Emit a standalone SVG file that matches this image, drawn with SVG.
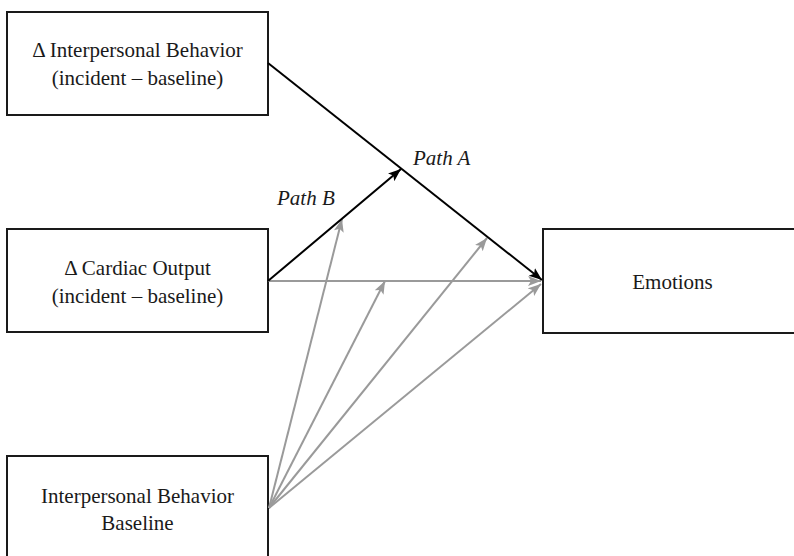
<svg xmlns="http://www.w3.org/2000/svg" width="794" height="556" viewBox="0 0 794 556">
  <style>
    .box { fill: #ffffff; stroke: #1a1a1a; stroke-width: 2; }
    .blk { stroke: #000000; stroke-width: 2; fill: none; }
    .gry { stroke: #9a9a9a; stroke-width: 2; fill: none; }
  </style>
  <defs>
    <marker id="ab" markerUnits="userSpaceOnUse" markerWidth="14" markerHeight="12" refX="13" refY="5" orient="auto">
      <path d="M0,0 L13,5 L0,10 L3,5 z" fill="#000000"/>
    </marker>
    <marker id="ag" markerUnits="userSpaceOnUse" markerWidth="14" markerHeight="12" refX="13" refY="5" orient="auto">
      <path d="M0,0 L13,5 L0,10 L3,5 z" fill="#9a9a9a"/>
    </marker>
  </defs>
  <rect width="794" height="556" fill="#ffffff"/>

  <g font-family="Liberation Serif, DejaVu Serif, serif" font-size="21" fill="#1a1a1a" text-anchor="middle">
    <g id="node-delta-behavior">
      <rect class="box" x="7" y="12" width="261" height="103"/>
      <text x="137.5" y="57">Δ Interpersonal Behavior</text>
      <text x="137.5" y="85">(incident – baseline)</text>
    </g>
    <g id="node-delta-cardiac">
      <rect class="box" x="7" y="229" width="261" height="103"/>
      <text x="137.5" y="275">Δ Cardiac Output</text>
      <text x="137.5" y="303">(incident – baseline)</text>
    </g>
    <g id="node-baseline">
      <rect class="box" x="7" y="456" width="261" height="120"/>
      <text x="137.5" y="503">Interpersonal Behavior</text>
      <text x="137.5" y="530">Baseline</text>
    </g>
    <g id="node-emotions">
      <rect class="box" x="543" y="229" width="262" height="104"/>
      <text x="672.5" y="289">Emotions</text>
    </g>
  </g>

  <g id="connectors">
    <line class="gry" x1="268" y1="281" x2="541" y2="281" marker-end="url(#ag)"/>
    <line class="gry" x1="269" y1="508" x2="342" y2="219" marker-end="url(#ag)"/>
    <line class="gry" x1="269" y1="508" x2="385" y2="281" marker-end="url(#ag)"/>
    <line class="gry" x1="269" y1="508" x2="487" y2="238" marker-end="url(#ag)"/>
    <line class="gry" x1="269" y1="508" x2="541" y2="284" marker-end="url(#ag)"/>
    <line class="blk" x1="268" y1="63" x2="542" y2="280" marker-end="url(#ab)"/>
    <line class="blk" x1="268" y1="281" x2="401" y2="169" marker-end="url(#ab)"/>
    <g font-family="Liberation Serif, DejaVu Serif, serif" font-size="21" font-style="italic" fill="#1a1a1a">
      <text x="413" y="165">Path A</text>
      <text x="277" y="205">Path B</text>
    </g>
  </g>
</svg>
